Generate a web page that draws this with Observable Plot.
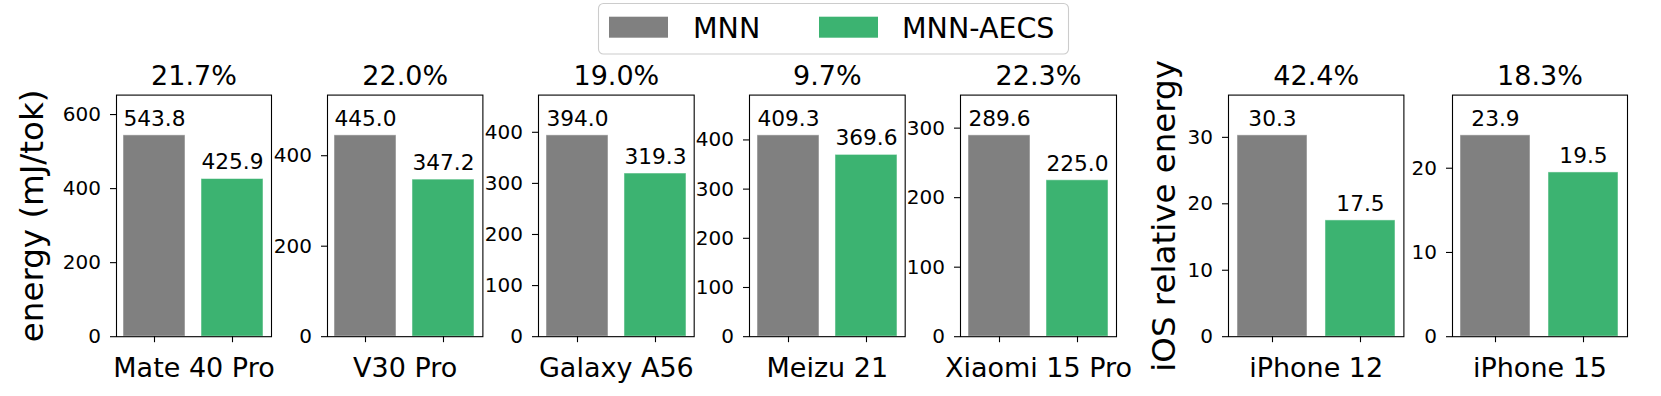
<!DOCTYPE html>
<html>
<head>
<meta charset="utf-8">
<script src="https://cdn.jsdelivr.net/npm/d3@7"></script>
<script src="https://cdn.jsdelivr.net/npm/@observablehq/plot@0.6"></script>
<style>
  body { margin: 0; background: #fff; }
  #chart { position: relative; width: 1661px; height: 396px; overflow: hidden; background: #fff; font-family: "DejaVu Sans", sans-serif; }
  #chart > svg { position: absolute; top: 0; }
</style>
</head>
<body>
<div id="chart"></div>
<script>
// ---- data ----
const devices = ["Mate 40 Pro", "V30 Pro", "Galaxy A56", "Meizu 21", "Xiaomi 15 Pro", "iPhone 12", "iPhone 15"];
const methods = ["MNN", "MNN-AECS"];
const mnnEnergy = [543.8, 445.0, 394.0, 409.3, 289.6, 30.3, 23.9];
const aecsEnergy = [425.9, 347.2, 319.3, 369.6, 225.0, 17.5, 19.5];
const savings = ["21.7%", "22.0%", "19.0%", "9.7%", "22.3%", "42.4%", "18.3%"];
const yTicks = [[0, 200, 400, 600], [0, 200, 400], [0, 100, 200, 300, 400], [0, 100, 200, 300, 400], [0, 100, 200, 300], [0, 10, 20, 30], [0, 10, 20]];
const yLabels = ["energy (mJ/tok)", "iOS relative energy"];
const colors = ["#808080", "#3cb371"];

// ---- layout ----
const frameLeft = [116.2, 327.1, 537.9, 748.9, 960, 1227.5, 1451.8];
const frameRight = [271.2, 482.5, 693.6, 904.6, 1116, 1402.9, 1626.8];
const H = 396, frameTop = 94.6, frameBottom = 336.2;
const ML = 60, MR = 10;
const chart = document.getElementById("chart");

devices.forEach((dev, i) => {
  const rows = methods.map((m, j) => ({method: m, value: j ? aecsEnergy[i] : mnnEnergy[i]}));
  const ymax = Math.max(...rows.map(r => r.value)) * 1.2;
  const marks = [
    Plot.barY(rows, {x: "method", y: "value", fill: "method", stroke: "#fff", strokeOpacity: 0.5, strokeWidth: 1}),
    Plot.frame({stroke: "#000", strokeWidth: 1.1}),
    Plot.axisY({ticks: yTicks[i], tickSize: 6, tickPadding: 9.5, strokeWidth: 1.1, fontSize: 20, label: null}),
    Plot.axisX({tickSize: 6, strokeWidth: 1.1, tickFormat: () => "", label: null}),
    Plot.text(rows, {x: "method", y: "value", text: d => d.value.toFixed(1), dy: -9.6, lineAnchor: "bottom", fontSize: 21.7, fill: "#000"}),
    Plot.text([savings[i]], {text: d => d, frameAnchor: "top", dy: -10.3, lineAnchor: "bottom", fontSize: 27, fill: "#000"}),
    Plot.text([dev], {text: d => d, frameAnchor: "bottom", dy: 40.6, lineAnchor: "bottom", fontSize: 27, fill: "#000"})
  ];
  if (i === 0) marks.push(Plot.text([yLabels[0]], {text: d => d, frameAnchor: "left", dx: -84.2, rotate: -90, textAnchor: "middle", lineAnchor: "middle", fontSize: 32.5, fill: "#000"}));
  if (i === 5) marks.push(Plot.text([yLabels[1]], {text: d => d, frameAnchor: "left", dx: -63.5, rotate: -90, textAnchor: "middle", lineAnchor: "middle", fontSize: 32.5, fill: "#000"}));
  const w = frameRight[i] - frameLeft[i];
  const plot = Plot.plot({
    width: w + ML + MR,
    height: H,
    marginTop: frameTop,
    marginBottom: H - frameBottom,
    marginLeft: ML,
    marginRight: MR,
    x: {type: "band", domain: methods, paddingInner: 0.2, paddingOuter: 0.09, align: 0.5},
    y: {domain: [0, ymax]},
    color: {domain: methods, range: colors},
    style: {fontFamily: "DejaVu Sans", fontSize: "20px", background: "transparent", overflow: "visible", color: "#000"},
    marks
  });
  plot.style.left = (frameLeft[i] - ML) + "px";
  chart.appendChild(plot);
});

// ---- legend ----
const lg = d3.create("svg")
  .attr("width", 1661).attr("height", 60)
  .style("left", "0px").style("font-family", "DejaVu Sans");
lg.append("rect").attr("x", 598.5).attr("y", 3.5).attr("width", 470).attr("height", 50.5)
  .attr("rx", 5).attr("fill", "#fff").attr("fill-opacity", 0.8).attr("stroke", "#cccccc").attr("stroke-width", 1.1);
const patchX = [609, 819], textX = [693, 902];
methods.forEach((m, j) => {
  lg.append("rect").attr("x", patchX[j]).attr("y", 16.7).attr("width", 59).attr("height", 21).attr("fill", colors[j]);
  lg.append("text").attr("x", textX[j]).attr("y", 37.7).attr("font-size", "28.5px").attr("fill", "#000").text(m);
});
chart.appendChild(lg.node());
</script>
</body>
</html>
